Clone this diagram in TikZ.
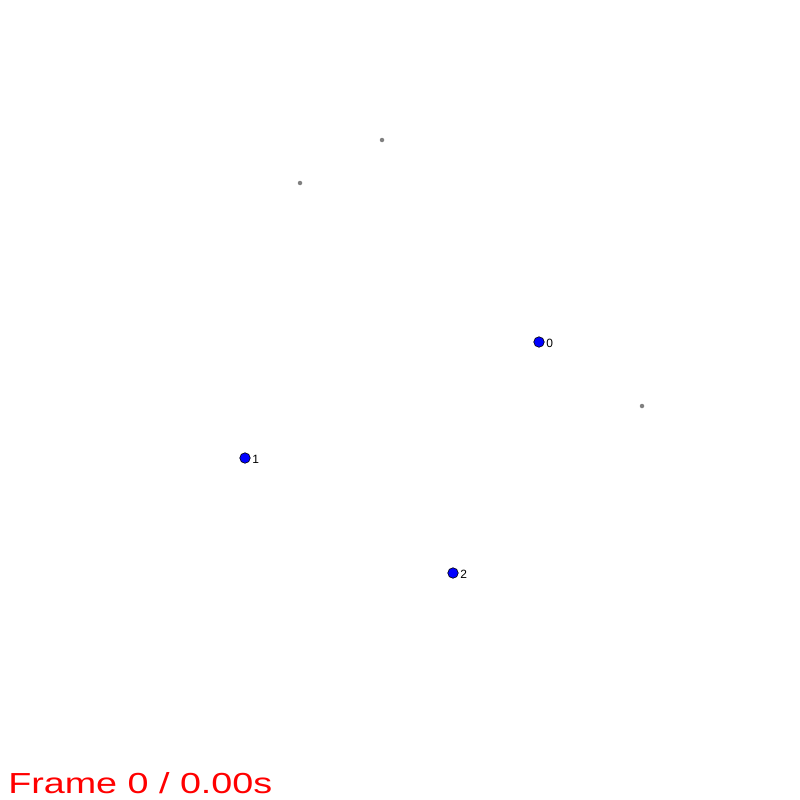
\documentclass[tikz,border=0pt]{standalone}
\usepackage{fontspec}
\setmainfont{Liberation Sans}
\usepackage{xcolor}
\usepackage{tikz}

\tikzset{
  body/.style={circle, draw=black, fill=blue, line width=0.6pt, inner sep=0pt, minimum size=10.5pt},
  bodylabel/.style={font=\fontsize{12}{12}\selectfont, anchor=west, inner sep=1pt},
  probe/.style={circle, fill=gray, inner sep=0pt, minimum size=4.5pt},
}

\begin{document}
\begin{tikzpicture}[x=1pt, y=-1pt]
  %% Canvas
  \useasboundingbox (0,0) rectangle (800,800);

  %% Small grey markers
  \node[probe] (p0) at (382,140) {};
  \node[probe] (p1) at (300,183) {};
  \node[probe] (p2) at (642,406) {};

  %% Bodies with their numbers
  \node[body] (b0) at (539,342) {};
  \node[bodylabel] at ([xshift=0.5pt,yshift=-1pt]b0.east) {0};
  \node[body] (b1) at (245,458) {};
  \node[bodylabel] at ([xshift=0.5pt,yshift=-1pt]b1.east) {1};
  \node[body] (b2) at (453,573) {};
  \node[bodylabel] at ([xshift=0.5pt,yshift=-1pt]b2.east) {2};

  %% Frame counter
  \node[font=\fontsize{29}{29}\selectfont, text=red, anchor=base west, inner sep=0pt,
        xscale=1.3] (frame) at (8,793) {Frame 0 / 0.00s};
\end{tikzpicture}
\end{document}
